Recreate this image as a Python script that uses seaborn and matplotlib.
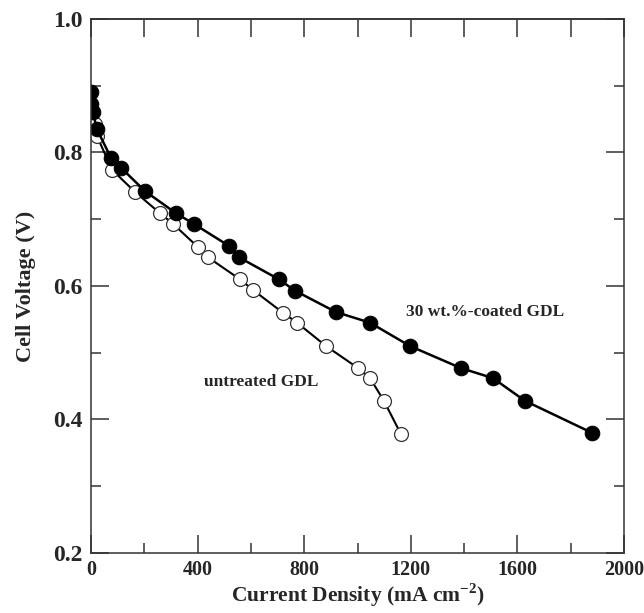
import numpy as np
import pandas as pd
import matplotlib
matplotlib.use("Agg")
import matplotlib.pyplot as plt
import seaborn as sns
from matplotlib.ticker import MultipleLocator

# polarization data
coated_j = [0, 0, 7, 22, 75, 113, 203, 319, 386, 518, 555, 705, 765, 919,
            1047, 1197, 1388, 1508, 1628, 1880]
coated_v = [0.891, 0.873, 0.861, 0.835, 0.792, 0.777, 0.742, 0.709, 0.693,
            0.660, 0.643, 0.610, 0.593, 0.561, 0.545, 0.510, 0.477, 0.462,
            0.428, 0.380]

untreated_j = [15, 22, 79, 165, 259, 308, 402, 439, 559, 608, 720, 773, 882,
               1002, 1047, 1099, 1163]
untreated_v = [0.843, 0.825, 0.774, 0.741, 0.709, 0.693, 0.658, 0.643, 0.610,
               0.594, 0.560, 0.545, 0.510, 0.477, 0.462, 0.428, 0.378]

coated_label = "30 wt.%-coated GDL"
untreated_label = "untreated GDL"

df_c = pd.DataFrame({"j": coated_j, "v": coated_v})
df_u = pd.DataFrame({"j": untreated_j, "v": untreated_v})

sns.set_style("ticks")
plt.rcParams["font.family"] = ["Liberation Serif", "DejaVu Serif"]
plt.rcParams["font.weight"] = "bold"
plt.rcParams["mathtext.fontset"] = "custom"
plt.rcParams["mathtext.rm"] = "Liberation Serif:bold"
plt.rcParams["mathtext.bf"] = "Liberation Serif:bold"

fig = plt.figure(figsize=(6.44, 6.13), dpi=100)
ax = fig.add_axes([0.1413, 0.0979, 0.8277, 0.8711])

sns.lineplot(data=df_u, x="j", y="v", ax=ax, estimator=None, sort=False,
             color="black", lw=1.5, marker="o", markersize=10,
             markerfacecolor="white", markeredgecolor="#333333",
             markeredgewidth=0.9)
sns.lineplot(data=df_c, x="j", y="v", ax=ax, estimator=None, sort=False,
             color="black", lw=1.8, marker="o", markersize=10.5,
             markerfacecolor="black", markeredgecolor="black")

ax.text(1182, 0.561, coated_label, fontsize=12.5, fontweight="bold",
        va="center", ha="left")
ax.text(424, 0.456, untreated_label, fontsize=12.5, fontweight="bold",
        va="center", ha="left")

ax.set_xlim(0, 2000)
ax.set_ylim(0.2, 1.0)
ax.xaxis.set_minor_locator(MultipleLocator(200))
ax.yaxis.set_minor_locator(MultipleLocator(0.1))
ax.set_xticks([0, 400, 800, 1200, 1600, 2000])
ax.set_xticklabels(["0", "400", "800", "1200", "1600", "2000"])
ax.set_yticks([0.2, 0.4, 0.6, 0.8, 1.0])
ax.set_yticklabels(["0.2", "0.4", "0.6", "0.8", "1.0"])

ax.tick_params(which="major", direction="in", length=13, width=1.1,
               left=True, right=True, bottom=True, top=False,
               color="#333333")
ax.tick_params(which="minor", direction="in", length=7, width=1.1,
               left=True, right=True, bottom=True, top=False,
               color="#333333")
ax.tick_params(axis="y", labelsize=17, pad=6)
ax.tick_params(axis="x", labelsize=14.5, pad=5)
for lab in ax.get_xticklabels() + ax.get_yticklabels():
    lab.set_fontweight("bold")

top = ax.secondary_xaxis("top")
top.xaxis.set_major_locator(MultipleLocator(200))
top.tick_params(direction="in", length=13, width=1.1, labeltop=False,
                color="#333333")

for s in ax.spines.values():
    s.set_linewidth(1.1)
    s.set_color("#333333")
for s in top.spines.values():
    s.set_linewidth(1.1)
    s.set_color("#333333")

ax.set_xlabel("Current Density (mA cm$^{-2}$)", fontsize=15.5,
              fontweight="bold", labelpad=1)
ax.set_ylabel("Cell Voltage (V)", fontsize=16, fontweight="bold",
              labelpad=12)

fig.savefig("out.png", dpi=100)
